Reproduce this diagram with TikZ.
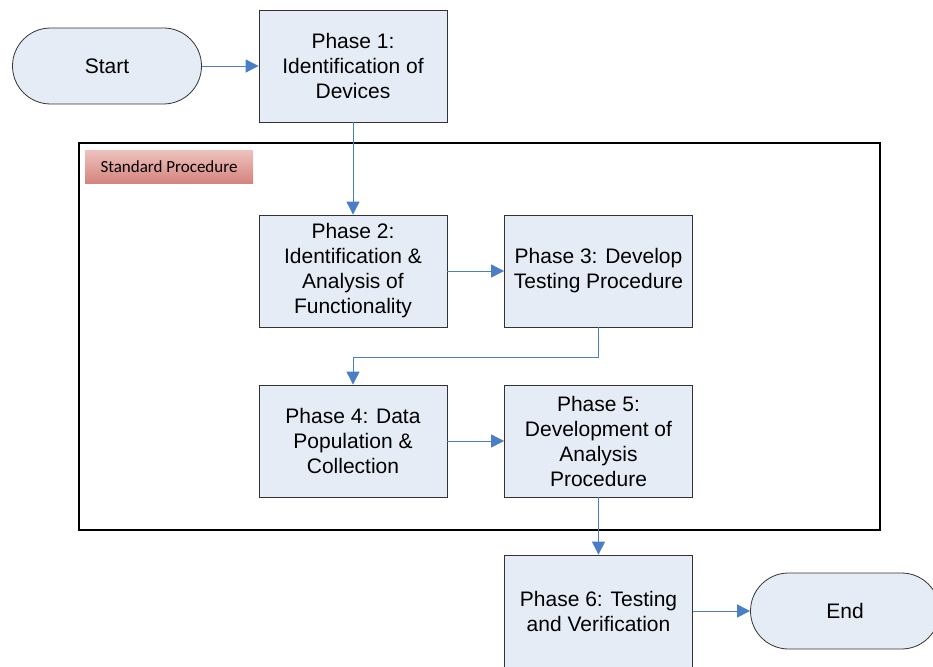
\documentclass[tikz,border=0pt]{standalone}
\usepackage{fontspec}
\setmainfont{Liberation Sans}
\newfontfamily\labelfont{Carlito}
\usetikzlibrary{arrows.meta}
\definecolor{boxfill}{RGB}{230,236,246}
\definecolor{linkblue}{RGB}{74,126,198}
\definecolor{lbltop}{RGB}{238,194,190}
\definecolor{lblbot}{RGB}{213,132,126}
\begin{document}
\begin{tikzpicture}[x=1pt,y=-1pt,
  phasebox/.style={draw=black!80,line width=0.8pt,fill=boxfill,minimum width=188pt,minimum height=112pt,align=center,inner sep=2pt,font=\fontsize{21}{25}\selectfont},
  termbox/.style={draw=black!80,line width=0.8pt,fill=boxfill,minimum width=189pt,minimum height=76pt,rounded corners=38pt,align=center,font=\fontsize{21}{25}\selectfont},
  link/.style={draw=linkblue,line width=0.9pt,-{Triangle[length=13pt,width=13pt]}}]
\useasboundingbox (0,0) rectangle (933,666);
\node[draw=black,line width=1.8pt,minimum width=801pt,minimum height=387pt,inner sep=0pt] (frame) at (479.5,336.5) {};
\node[top color=lbltop,bottom color=lblbot,minimum width=168pt,minimum height=33pt,inner sep=0pt,font=\labelfont\fontsize{17}{20}\selectfont] (lbl) at (169,166.5) {Standard Procedure};
\node[termbox] (start) at (107,66) {Start};
\node[phasebox] (p1) at (353,66) {Phase 1:\\Identification of\\Devices};
\node[phasebox] (p2) at (353,271) {Phase 2:\\Identification \&\\Analysis of\\Functionality};
\node[phasebox] (p3) at (598.5,271) {Phase 3: Develop\\Testing Procedure};
\node[phasebox] (p4) at (353,441) {Phase 4: Data\\Population \&\\Collection};
\node[phasebox] (p5) at (598.5,441) {Phase 5:\\Development of\\Analysis\\Procedure};
\node[phasebox] (p6) at (598.5,611) {Phase 6: Testing\\and Verification};
\node[termbox] (end) at (845,611) {End};
\draw[link] (start) -- (p1);
\draw[link] (p1) -- (p2);
\draw[link] (p2) -- (p3);
\draw[link] (p3.south) -- ++(0,30) -| (p4.north);
\draw[link] (p4) -- (p5);
\draw[link] (p5) -- (p6);
\draw[link] (p6) -- (end);
\end{tikzpicture}
\end{document}
